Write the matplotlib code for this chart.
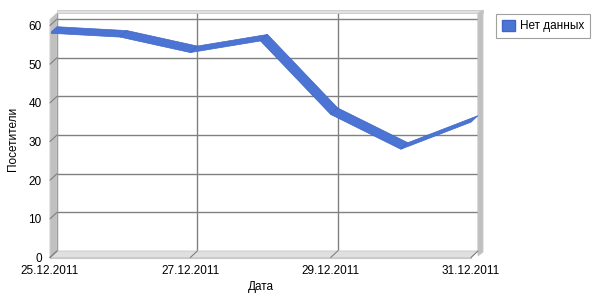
import datetime as dt
import matplotlib
matplotlib.use('Agg')
import matplotlib.pyplot as plt
import matplotlib.dates as mdates
from matplotlib.patches import Polygon, Patch, ConnectionPatch

plt.rcParams['font.family'] = ['Liberation Sans', 'DejaVu Sans']
plt.rcParams['font.size'] = 8.5

# data
dates = [dt.date(2011, 12, d) for d in range(25, 32)]
visitors = [58, 57, 53, 56, 37, 28, 35]
tick_dates = [dt.date(2011, 12, d) for d in (25, 27, 29, 31)]
y_ticks = [0, 10, 20, 30, 40, 50, 60]
series_name = 'Нет данных'

W, H = 600, 300
fig = plt.figure(figsize=(6, 3), dpi=100)
fig.patch.set_facecolor('white')

# back wall (pixels from top-left)
bx0, bx1, by0, by1 = 57, 478, 13, 251
ddx, ddy = -7, 6.5   # depth offset back -> front in pixels
ymax = 61.55

def fr(x0, y_top, w, h):
    return [x0 / W, 1 - (y_top + h) / H, w / W, h / H]

back = fig.add_axes(fr(bx0, by0, bx1 - bx0, by1 - by0))
front = fig.add_axes(fr(bx0 + ddx, by0 + ddy, bx1 - bx0, by1 - by0))

xnum = mdates.date2num(dates)
for a in (back, front):
    a.set_xlim(xnum[0], xnum[-1])
    a.set_ylim(0, ymax)

# back wall with grid
back.set_facecolor('white')
for s in back.spines.values():
    s.set_visible(False)
back.set_xticks(mdates.date2num(tick_dates))
back.set_yticks(y_ticks[1:])
back.tick_params(length=0, labelbottom=False, labelleft=False)
back.grid(True, color='#808080', linewidth=1)
back.set_axisbelow(True)

# walls in pixel space
def px(pts):
    return [(x / W, 1 - y / H) for x, y in pts]

walls = [
    # top strip of back wall
    ([(bx0, by0 - 3), (bx1 + 5, by0 - 3), (bx1 + 5, by0), (bx0, by0)], '#e0e0e0'),
    # right wall thickness
    ([(bx1, by0), (bx1 + 5, by0 - 3), (bx1 + 5, by1 + 1), (bx1, by1 + 5)], '#c0c0c0'),
    # left wall
    ([(bx0, by0), (bx0, by1), (bx0 + ddx, by1 + ddy), (bx0 + ddx, by0 + ddy)], '#c0c0c0'),
    # floor
    ([(bx0, by1), (bx1, by1), (bx1 + ddx, by1 + ddy), (bx0 + ddx, by1 + ddy)], '#e0e0e0'),
]
for pts, c in walls:
    back.add_patch(Polygon(px(pts), closed=True, transform=fig.transFigure,
                           facecolor=c, edgecolor='#c8c8c8', linewidth=0.6,
                           clip_on=False, zorder=2))

# ribbon: back edge on back plane, front edge on front plane
px_per_day = (bx1 - bx0) / (xnum[-1] - xnum[0])
px_per_unit = (by1 - by0) / ymax
odx = ddx / px_per_day
ody = -ddy / px_per_unit
color = '#4b74d4'
for i in range(len(xnum) - 1):
    quad = [(xnum[i], visitors[i]), (xnum[i + 1], visitors[i + 1]),
            (xnum[i + 1] + odx, visitors[i + 1] + ody), (xnum[i] + odx, visitors[i] + ody)]
    back.add_patch(Polygon(quad, closed=True, facecolor=color, edgecolor='#3f66c4',
                           linewidth=0.5, clip_on=False, zorder=5))

# front axes: labels and ticks
front.patch.set_visible(False)
front.spines['top'].set_visible(False)
front.spines['right'].set_visible(False)
front.spines['left'].set_color('#c8c8c8')
front.spines['bottom'].set_color('#c8c8c8')
front.set_xticks(mdates.date2num(tick_dates))
front.set_xticklabels([d.strftime('%d.%m.%Y') for d in tick_dates])
front.set_yticks(y_ticks)
front.tick_params(axis='y', length=0, pad=6)
front.tick_params(axis='x', length=0, pad=5.5)
front.set_ylabel('Посетители', labelpad=7)
front.set_xlabel('Дата', labelpad=3)

# diagonal tick marks joining front and back planes
for y in y_ticks:
    fig.add_artist(ConnectionPatch(xyA=(xnum[0], y), coordsA=front.transData,
                                   xyB=(xnum[0], y), coordsB=back.transData,
                                   color='#808080', linewidth=0.8, zorder=6))
for d in mdates.date2num(tick_dates):
    fig.add_artist(ConnectionPatch(xyA=(d, 0), coordsA=front.transData,
                                   xyB=(d, 0), coordsB=back.transData,
                                   color='#808080', linewidth=0.8, zorder=6))

leg = fig.legend([Patch(facecolor=color, edgecolor='#3f66c4')], [series_name],
                 loc='upper left', bbox_to_anchor=(490 / W, 1 - 8 / H),
                 fancybox=False, framealpha=1, edgecolor='#a0a0a0',
                 handlelength=1.1, handleheight=1.1, handletextpad=0.4,
                 borderpad=0.5, fontsize=8.5)
leg.get_frame().set_linewidth(0.8)

fig.savefig('out.png', dpi=100)
